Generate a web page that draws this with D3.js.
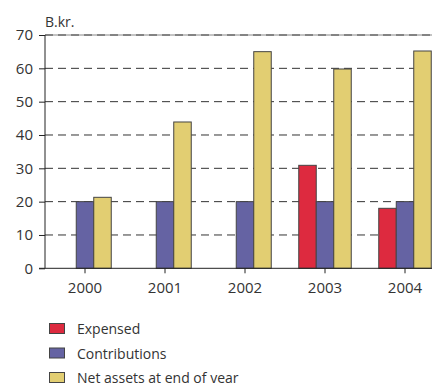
<!DOCTYPE html>
<html><head><meta charset="utf-8">
<script src="https://cdn.jsdelivr.net/npm/d3@7"></script>
<style>body{margin:0;background:#fff;} svg{display:block;} text{font-family:"Open Sans",sans-serif;fill:#333;}</style>
</head><body>
<svg id="c" width="432" height="383"></svg>
<script>
const years = ["2000","2001","2002","2003","2004"];
const expensed = [0, 0, 0, 30.9, 18.0];
const contributions = [20, 20, 20, 20, 20];
const netAssets = [21.3, 43.9, 65.0, 59.8, 65.2];
const seriesNames = ["Expensed","Contributions","Net assets at end of year"];
const colors = ["#dd2a3f","#6563a3","#e2ce72"];
const yTicks = [0,10,20,30,40,50,60,70];
const unitLabel = "B.kr.";

const svg = d3.select("#c");
const pLeft = 45, pRight = 445, pTop = 35, pBottom = 268.3;
const x = d3.scaleBand().domain(years).range([pLeft, pRight]);
const y = d3.scaleLinear().domain([0,70]).range([pBottom, pTop]);
const bw = 17.5;
const series = [expensed, contributions, netAssets];

// gridlines
svg.append("g").selectAll("line").data(yTicks.filter(d=>d>0 && d<70)).join("line")
  .attr("x1", pLeft).attr("x2", 432).attr("y1", d=>y(d)).attr("y2", d=>y(d))
  .attr("stroke", "#333").attr("stroke-width", 1).attr("stroke-dasharray", "8,5");
svg.append("line").attr("x1", pLeft).attr("x2", 432).attr("y1", y(70)).attr("y2", y(70))
  .attr("stroke", "#888").attr("stroke-width", 1);
svg.append("line").attr("x1", pLeft).attr("x2", 432).attr("y1", y(70)).attr("y2", y(70))
  .attr("stroke", "#444").attr("stroke-width", 1).attr("stroke-dasharray", "8,5");

// bars
series.forEach((vals, si) => {
  svg.append("g").selectAll("rect").data(years.filter((d,i)=>vals[i] > 0)).join("rect")
    .attr("x", d => x(d) + x.bandwidth()/2 + (si-1)*bw - bw/2)
    .attr("y", d => y(vals[years.indexOf(d)]))
    .attr("width", bw)
    .attr("height", d => pBottom - y(vals[years.indexOf(d)]))
    .attr("fill", colors[si]).attr("stroke", "#444").attr("stroke-width", 1);
});

// y axis
const yAxis = d3.axisLeft(y).tickValues(yTicks).tickSize(6).tickPadding(6).tickFormat(d3.format("d"));
const gy = svg.append("g").attr("transform", `translate(${pLeft},0)`).call(yAxis);
gy.select(".domain").attr("stroke", "#222").attr("d", `M0,${pBottom}V${pTop}`);
gy.selectAll(".tick line").attr("stroke", "#222");
gy.selectAll("text").style("font-size", "15px").attr("fill", "#333");

// x axis
const xAxis = d3.axisBottom(x).tickSize(5).tickPadding(9);
const gx = svg.append("g").attr("transform", `translate(0,${pBottom})`).call(xAxis);
gx.select(".domain").remove();
svg.append("line").attr("x1", pLeft-6).attr("x2", 432).attr("y1", pBottom).attr("y2", pBottom).attr("stroke", "#222");
gx.selectAll(".tick line").attr("stroke", "#222");
gx.selectAll("text").style("font-size", "15px").attr("fill", "#333");

svg.append("text").attr("x", 45).attr("y", 27).style("font-size", "14px").text(unitLabel);

// legend
const lg = svg.append("g");
seriesNames.forEach((n, i) => {
  const yy = 323.5 + i*24.5;
  lg.append("rect").attr("x", 49.5).attr("y", yy).attr("width", 15).attr("height", 10)
    .attr("fill", colors[i]).attr("stroke", "#444").attr("stroke-width", 1);
  lg.append("text").attr("x", 77).attr("y", yy + 10.5).style("font-size", "14px").text(n);
});
</script>
</body></html>
